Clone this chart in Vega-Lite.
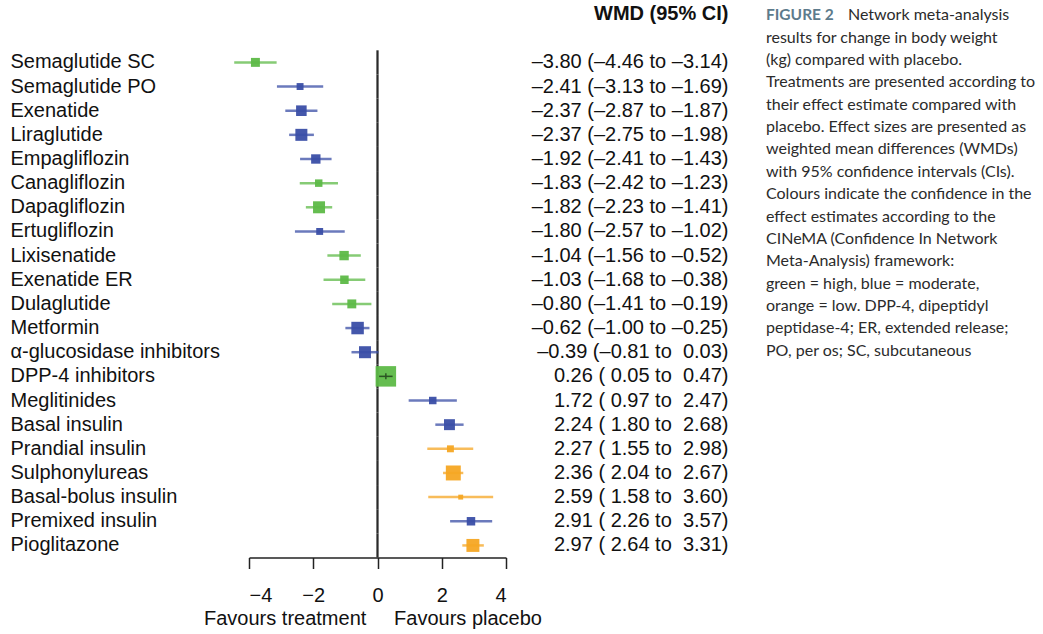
{
  "$schema": "https://vega.github.io/schema/vega-lite/v6.json",
  "background": "white",
  "padding": {"left": 10, "top": 2, "right": 0, "bottom": 0},
  "autosize": {"type": "pad"},
  "config": {"view": {"stroke": null}, "font": "Liberation Sans"},
  "datasets": {
    "rows": [
      {"name": "Semaglutide SC", "est": -3.80, "lo": -4.46, "hi": -3.14, "confidence": "high", "weight": 20, "ci": "–3.80 (–4.46 to –3.14)"},
      {"name": "Semaglutide PO", "est": -2.41, "lo": -3.13, "hi": -1.69, "confidence": "moderate", "weight": 12, "ci": "–2.41 (–3.13 to –1.69)"},
      {"name": "Exenatide", "est": -2.37, "lo": -2.87, "hi": -1.87, "confidence": "moderate", "weight": 28, "ci": "–2.37 (–2.87 to –1.87)"},
      {"name": "Liraglutide", "est": -2.37, "lo": -2.75, "hi": -1.98, "confidence": "moderate", "weight": 36, "ci": "–2.37 (–2.75 to –1.98)"},
      {"name": "Empagliflozin", "est": -1.92, "lo": -2.41, "hi": -1.43, "confidence": "moderate", "weight": 22, "ci": "–1.92 (–2.41 to –1.43)"},
      {"name": "Canagliflozin", "est": -1.83, "lo": -2.42, "hi": -1.23, "confidence": "high", "weight": 14, "ci": "–1.83 (–2.42 to –1.23)"},
      {"name": "Dapagliflozin", "est": -1.82, "lo": -2.23, "hi": -1.41, "confidence": "high", "weight": 36, "ci": "–1.82 (–2.23 to –1.41)"},
      {"name": "Ertugliflozin", "est": -1.80, "lo": -2.57, "hi": -1.02, "confidence": "moderate", "weight": 12, "ci": "–1.80 (–2.57 to –1.02)"},
      {"name": "Lixisenatide", "est": -1.04, "lo": -1.56, "hi": -0.52, "confidence": "high", "weight": 22, "ci": "–1.04 (–1.56 to –0.52)"},
      {"name": "Exenatide ER", "est": -1.03, "lo": -1.68, "hi": -0.38, "confidence": "high", "weight": 18, "ci": "–1.03 (–1.68 to –0.38)"},
      {"name": "Dulaglutide", "est": -0.80, "lo": -1.41, "hi": -0.19, "confidence": "high", "weight": 20, "ci": "–0.80 (–1.41 to –0.19)"},
      {"name": "Metformin", "est": -0.62, "lo": -1.00, "hi": -0.25, "confidence": "moderate", "weight": 39, "ci": "–0.62 (–1.00 to –0.25)"},
      {"name": "α-glucosidase inhibitors", "est": -0.39, "lo": -0.81, "hi": 0.03, "confidence": "moderate", "weight": 36, "ci": "–0.39 (–0.81 to\u00a0 0.03)"},
      {"name": "DPP-4 inhibitors", "est": 0.26, "lo": 0.05, "hi": 0.47, "confidence": "high", "weight": 105, "ci": "0.26 (\u00a00.05 to\u00a0 0.47)"},
      {"name": "Meglitinides", "est": 1.72, "lo": 0.97, "hi": 2.47, "confidence": "moderate", "weight": 14, "ci": "1.72 (\u00a00.97 to\u00a0 2.47)"},
      {"name": "Basal insulin", "est": 2.24, "lo": 1.80, "hi": 2.68, "confidence": "moderate", "weight": 30, "ci": "2.24 (\u00a01.80 to\u00a0 2.68)"},
      {"name": "Prandial insulin", "est": 2.27, "lo": 1.55, "hi": 2.98, "confidence": "low", "weight": 12, "ci": "2.27 (\u00a01.55 to\u00a0 2.98)"},
      {"name": "Sulphonylureas", "est": 2.36, "lo": 2.04, "hi": 2.67, "confidence": "low", "weight": 56, "ci": "2.36 (\u00a02.04 to\u00a0 2.67)"},
      {"name": "Basal-bolus insulin", "est": 2.59, "lo": 1.58, "hi": 3.60, "confidence": "low", "weight": 6, "ci": "2.59 (\u00a01.58 to\u00a0 3.60)"},
      {"name": "Premixed insulin", "est": 2.91, "lo": 2.26, "hi": 3.57, "confidence": "moderate", "weight": 18, "ci": "2.91 (\u00a02.26 to\u00a0 3.57)"},
      {"name": "Pioglitazone", "est": 2.97, "lo": 2.64, "hi": 3.31, "confidence": "low", "weight": 42, "ci": "2.97 (\u00a02.64 to\u00a0 3.31)"}
    ],
    "caption": [
      {"line": 1, "part": "label", "text": "FIGURE 2"},
      {"line": 1, "part": "lead", "text": "Network meta-analysis"},
      {"line": 2, "part": "body", "text": "results for change in body weight"},
      {"line": 3, "part": "body", "text": "(kg) compared with placebo."},
      {"line": 4, "part": "body", "text": "Treatments are presented according to"},
      {"line": 5, "part": "body", "text": "their effect estimate compared with"},
      {"line": 6, "part": "body", "text": "placebo. Effect sizes are presented as"},
      {"line": 7, "part": "body", "text": "weighted mean differences (WMDs)"},
      {"line": 8, "part": "body", "text": "with 95% confidence intervals (CIs)."},
      {"line": 9, "part": "body", "text": "Colours indicate the confidence in the"},
      {"line": 10, "part": "body", "text": "effect estimates according to the"},
      {"line": 11, "part": "body", "text": "CINeMA (Confidence In Network"},
      {"line": 12, "part": "body", "text": "Meta-Analysis) framework:"},
      {"line": 13, "part": "body", "text": "green = high, blue = moderate,"},
      {"line": 14, "part": "body", "text": "orange = low. DPP-4, dipeptidyl"},
      {"line": 15, "part": "body", "text": "peptidase-4; ER, extended release;"},
      {"line": 16, "part": "body", "text": "PO, per os; SC, subcutaneous"}
    ]
  },
  "spacing": 37,
  "hconcat": [
    {
      "data": {"name": "rows"},
      "width": 257,
      "height": 555.5,
      "layer": [
        {
          "encoding": {
            "y": {
              "field": "name",
              "type": "nominal",
              "scale": {
                "type": "band",
                "paddingInner": 0,
                "paddingOuter": 0,
                "domain": [" ", "  ", "Semaglutide SC", "Semaglutide PO", "Exenatide", "Liraglutide", "Empagliflozin", "Canagliflozin", "Dapagliflozin", "Ertugliflozin", "Lixisenatide", "Exenatide ER", "Dulaglutide", "Metformin", "α-glucosidase inhibitors", "DPP-4 inhibitors", "Meglitinides", "Basal insulin", "Prandial insulin", "Sulphonylureas", "Basal-bolus insulin", "Premixed insulin", "Pioglitazone"]
              },
              "axis": {
                "orient": "left",
                "title": null,
                "domain": false,
                "ticks": false,
                "tickSize": 0,
                "labelAlign": "left",
                "labelPadding": 239,
                "labelLimit": 400,
                "labelFontSize": 20,
                "labelColor": "#111111",
                "labelFont": "Liberation Sans"
              }
            }
          },
          "layer": [
            {
              "mark": {"type": "rect", "color": "#2a2a2a"},
              "encoding": {"x": {"datum": -0.035, "type": "quantitative"}, "x2": {"datum": 0.035}}
            },
            {
              "mark": {"type": "rule", "strokeWidth": 2.5, "opacity": 0.75},
              "encoding": {
                "x": {
                  "field": "lo",
                  "type": "quantitative",
                  "scale": {"domain": [-4, 4], "nice": false, "zero": false},
                  "axis": {
                    "values": [-4, -2, 0, 2, 4],
                    "grid": false,
                    "tickSize": 11,
                    "tickWidth": 1.5,
                    "tickColor": "#222222",
                    "domainColor": "#222222",
                    "domainWidth": 1.5,
                    "labelFontSize": 20,
                    "labelColor": "#111111",
                    "labelPadding": 17,
                    "labelFont": "Liberation Sans",
                    "title": "Favours treatment\u00a0\u00a0\u00a0\u00a0 Favours placebo",
                    "titleFont": "Liberation Sans",
                    "titleFontSize": 20,
                    "titleFontWeight": "normal",
                    "titleColor": "#111111",
                    "titlePadding": 3,
                    "titleX": 123.5
                  }
                },
                "x2": {"field": "hi"},
                "color": {"field": "confidence", "type": "nominal", "scale": {"domain": ["high", "moderate", "low"], "range": ["#5db947", "#3a4ea6", "#f5a623"]}, "legend": null}
              }
            },
            {
              "mark": {"type": "point", "shape": "square", "filled": true, "opacity": 0.95},
              "encoding": {
                "x": {"field": "est", "type": "quantitative"},
                "size": {"field": "weight", "type": "quantitative", "scale": {"domain": [0, 100], "range": [0, 400]}, "legend": null},
                "color": {"field": "confidence", "type": "nominal", "legend": null}
              }
            },
            {
              "transform": [{"filter": "datum.name === 'DPP-4 inhibitors'"}],
              "mark": {"type": "rule", "color": "#2c5424", "strokeWidth": 1.5},
              "encoding": {"x": {"field": "lo", "type": "quantitative"}, "x2": {"field": "hi"}}
            },
            {
              "transform": [{"filter": "datum.name === 'DPP-4 inhibitors'"}],
              "mark": {"type": "point", "shape": "M0,-1L0,1", "filled": false, "stroke": "#2c5424", "strokeWidth": 1.5, "size": 36, "opacity": 1},
              "encoding": {"x": {"field": "est", "type": "quantitative"}}
            }
          ]
        },
        {
          "mark": {"type": "point", "opacity": 0},
          "encoding": {
            "x": {"field": "est", "type": "quantitative"},
            "y": {
              "field": "ci",
              "type": "nominal",
              "scale": {
                "type": "band",
                "paddingInner": 0,
                "paddingOuter": 0,
                "domain": ["WMD (95% CI)", " ", "–3.80 (–4.46 to –3.14)", "–2.41 (–3.13 to –1.69)", "–2.37 (–2.87 to –1.87)", "–2.37 (–2.75 to –1.98)", "–1.92 (–2.41 to –1.43)", "–1.83 (–2.42 to –1.23)", "–1.82 (–2.23 to –1.41)", "–1.80 (–2.57 to –1.02)", "–1.04 (–1.56 to –0.52)", "–1.03 (–1.68 to –0.38)", "–0.80 (–1.41 to –0.19)", "–0.62 (–1.00 to –0.25)", "–0.39 (–0.81 to\u00a0 0.03)", "0.26 (\u00a00.05 to\u00a0 0.47)", "1.72 (\u00a00.97 to\u00a0 2.47)", "2.24 (\u00a01.80 to\u00a0 2.68)", "2.27 (\u00a01.55 to\u00a0 2.98)", "2.36 (\u00a02.04 to\u00a0 2.67)", "2.59 (\u00a01.58 to\u00a0 3.60)", "2.91 (\u00a02.26 to\u00a0 3.57)", "2.97 (\u00a02.64 to\u00a0 3.31)"]
              },
              "axis": {
                "orient": "right",
                "title": null,
                "domain": false,
                "ticks": false,
                "tickSize": 0,
                "labelAlign": "right",
                "labelPadding": 222,
                "labelLimit": 400,
                "labelFontSize": 20,
                "labelColor": "#111111",
                "labelFont": "Liberation Sans",
                "labelFontWeight": {"condition": {"test": "datum.value === 'WMD (95% CI)'", "value": "bold"}, "value": "normal"}
              }
            }
          }
        }
      ],
      "resolve": {"scale": {"y": "independent"}, "axis": {"y": "independent"}}
    },
    {
      "data": {"name": "caption"},
      "width": 2,
      "height": 362,
      "encoding": {
        "y": {"field": "line", "type": "ordinal", "scale": {"type": "point", "padding": 0.6}, "axis": null},
        "text": {"field": "text", "type": "nominal"}
      },
      "layer": [
        {
          "transform": [{"filter": "datum.part === 'label'"}],
          "mark": {"type": "text", "align": "left", "font": "Lato", "fontSize": 15.5, "fontWeight": "bold", "color": "#5d7b8c"}
        },
        {
          "transform": [{"filter": "datum.part === 'lead'"}],
          "mark": {"type": "text", "align": "left", "dx": 82, "font": "Lato", "fontSize": 16, "color": "#2b2b2b"}
        },
        {
          "transform": [{"filter": "datum.part === 'body'"}],
          "mark": {"type": "text", "align": "left", "font": "Lato", "fontSize": 16, "color": "#2b2b2b"}
        }
      ]
    }
  ]
}
